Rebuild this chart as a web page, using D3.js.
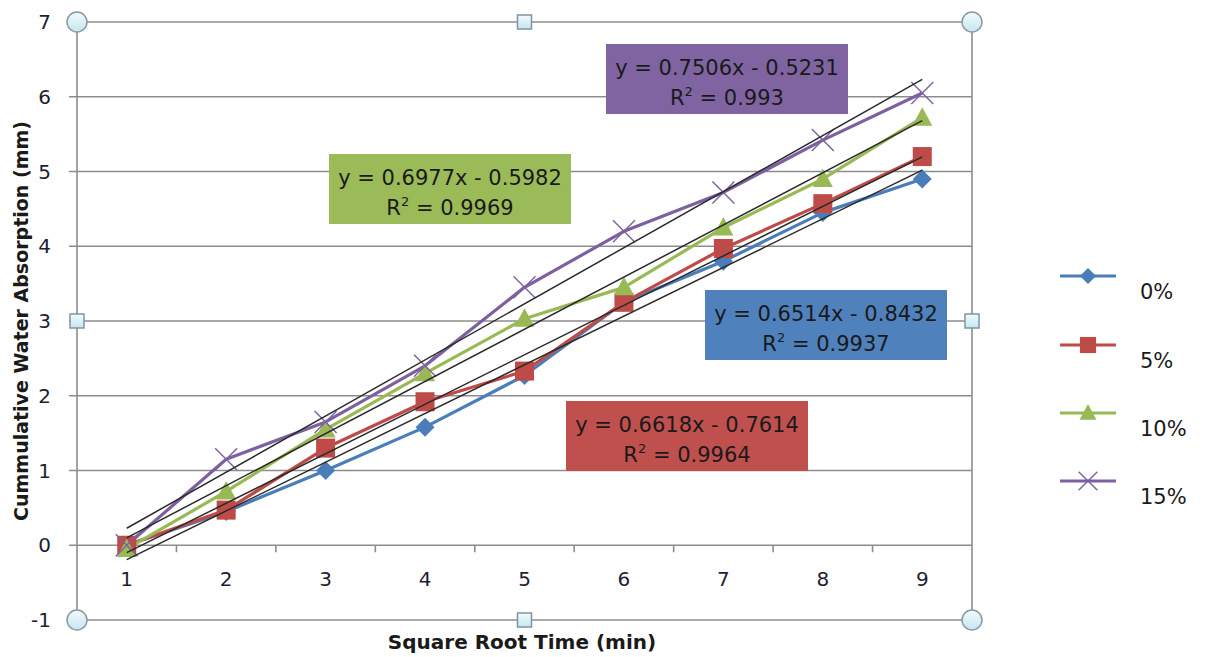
<!DOCTYPE html>
<html>
<head>
<meta charset="utf-8">
<script src="https://cdn.jsdelivr.net/npm/d3@7"></script>
<style>
  body { margin: 0; background: #fff; }
  svg { display: block; font-family: "DejaVu Sans", "Liberation Sans", sans-serif; }
</style>
</head>
<body>
<div id="vis"></div>
<script>
// declare constant
const FRAME_WIDTH = 1207
const FRAME_HEIGHT = 657
const PLOT = {left: 77, right: 972, top: 22, bottom: 620}

// data
const categories = [1, 2, 3, 4, 5, 6, 7, 8, 9]
const seriesNames = ["0%", "5%", "10%", "15%"]
const values0 = [0, 0.45, 1.0, 1.58, 2.27, 3.25, 3.8, 4.45, 4.9]
const values5 = [0, 0.47, 1.3, 1.92, 2.33, 3.25, 3.97, 4.57, 5.2]
const values10 = [-0.05, 0.72, 1.55, 2.3, 3.03, 3.45, 4.25, 4.9, 5.72]
const values15 = [0, 1.15, 1.65, 2.4, 3.45, 4.2, 4.72, 5.42, 6.05]
const slopes = [0.6514, 0.6618, 0.6977, 0.7506]
const intercepts = [-0.8432, -0.7614, -0.5982, -0.5231]
const rSquared = ["0.9937", "0.9964", "0.9969", "0.993"]
const yTicks = [-1, 0, 1, 2, 3, 4, 5, 6, 7]

const allValues = [values0, values5, values10, values15]
const colors = ["#4A7EBB", "#BE4B48", "#98B954", "#7D60A0"]
const boxFills = ["#4F81BD", "#C0504D", "#9BBB59", "#8064A2"]
const markers = ["diamond", "square", "triangle", "cross"]
// where the equation boxes sit (box centre, top)
const boxPos = [{cx: 826, top: 290}, {cx: 687, top: 401}, {cx: 450, top: 154}, {cx: 727, top: 44}]

const svg = d3.select('#vis')
              .append('svg')
              .attr('width', FRAME_WIDTH)
              .attr('height', FRAME_HEIGHT)

const x = d3.scaleBand()
            .domain(categories)
            .range([PLOT.left, PLOT.right])
const cx = d => x(d) + x.bandwidth() / 2

const y = d3.scaleLinear()
            .domain([-1, 7])
            .range([PLOT.bottom, PLOT.top])

// horizontal gridlines
svg.append("g")
   .selectAll("line")
   .data(yTicks)
   .enter()
   .append("line")
     .attr("x1", PLOT.left - 8)
     .attr("x2", PLOT.right)
     .attr("y1", d => y(d))
     .attr("y2", d => y(d))
     .attr("stroke", "#8c8c8c")
     .attr("stroke-width", 1.6)

// left axis line and right border
svg.append("line")
   .attr("x1", PLOT.left).attr("x2", PLOT.left)
   .attr("y1", PLOT.top).attr("y2", PLOT.bottom)
   .attr("stroke", "#8c8c8c").attr("stroke-width", 1.6)
svg.append("line")
   .attr("x1", PLOT.right).attr("x2", PLOT.right)
   .attr("y1", PLOT.top).attr("y2", PLOT.bottom)
   .attr("stroke", "#8c8c8c").attr("stroke-width", 1.6)

// y tick labels
svg.append("g")
   .selectAll("text")
   .data(yTicks)
   .enter()
   .append("text")
     .attr("x", 51)
     .attr("y", d => y(d) + 7)
     .attr("text-anchor", "end")
     .attr("font-size", "20px")
     .attr("fill", "#1e1e30")
     .text(d => d)

// category axis at y = 0
const xAxis = svg.append("g")
   .attr("transform", "translate(0," + y(0) + ")")
   .call(d3.axisBottom(x).tickSize(0).tickPadding(27))
xAxis.select(".domain").remove()
xAxis.selectAll("text")
     .attr("font-size", "20px")
     .attr("fill", "#1e1e30")
     .attr("font-family", "DejaVu Sans, sans-serif")
svg.append("g")
   .selectAll("line")
   .data(categories.slice(1))
   .enter()
   .append("line")
     .attr("x1", d => x(d)).attr("x2", d => x(d))
     .attr("y1", y(0)).attr("y2", y(0) + 7)
     .attr("stroke", "#8c8c8c").attr("stroke-width", 1.6)

// series lines
const line = d3.line()
               .x((d, i) => cx(categories[i]))
               .y(d => y(d))

svg.append("g")
   .selectAll("path")
   .data(allValues)
   .enter()
   .append("path")
     .attr("d", d => line(d))
     .attr("fill", "none")
     .attr("stroke", (d, i) => colors[i])
     .attr("stroke-width", 3.2)
     .attr("stroke-linejoin", "round")

// markers
function drawMarker(g, type, color, size) {
  const s = size
  if (type === "diamond") {
    g.append("path").attr("d", `M0,${-s}L${s},0L0,${s}L${-s},0Z`).attr("fill", color)
  } else if (type === "square") {
    g.append("rect").attr("x", -s).attr("y", -s).attr("width", 2 * s).attr("height", 2 * s).attr("fill", color)
  } else if (type === "triangle") {
    g.append("path").attr("d", `M0,${-s * 1.05}L${s},${s * 0.8}L${-s},${s * 0.8}Z`).attr("fill", color)
  } else {
    g.append("path").attr("d", `M${-s},${-s}L${s},${s}M${s},${-s}L${-s},${s}`)
     .attr("stroke", color).attr("stroke-width", 1.4).attr("fill", "none")
  }
}
const markerSize = [9.5, 9.5, 10, 11]
allValues.forEach((vals, si) => {
  vals.forEach((v, i) => {
    const g = svg.append("g").attr("transform", `translate(${cx(categories[i])},${y(v)})`)
    drawMarker(g, markers[si], colors[si], markerSize[si])
  })
})

// linear trendlines
svg.append("g")
   .selectAll("line")
   .data(slopes)
   .enter()
   .append("line")
     .attr("x1", cx(categories[0]))
     .attr("x2", cx(categories[categories.length - 1]))
     .attr("y1", (d, i) => y(d * categories[0] + intercepts[i]))
     .attr("y2", (d, i) => y(d * categories[categories.length - 1] + intercepts[i]))
     .attr("stroke", "#2a2a2a")
     .attr("stroke-width", 1.5)

// equation labels
const fmt = d3.format(".4f")
slopes.forEach((m, i) => {
  const b = intercepts[i]
  const g = svg.append("g")
  g.append("rect")
   .attr("x", boxPos[i].cx - 121)
   .attr("y", boxPos[i].top)
   .attr("width", 242)
   .attr("height", 70)
   .attr("fill", boxFills[i])
  g.append("text")
   .attr("x", boxPos[i].cx)
   .attr("y", boxPos[i].top + 31)
   .attr("text-anchor", "middle")
   .attr("font-size", "21px")
   .attr("fill", "#1a1a1a")
   .text("y = " + fmt(m) + "x " + (b < 0 ? "- " : "+ ") + fmt(Math.abs(b)))
  const t2 = g.append("text")
   .attr("x", boxPos[i].cx)
   .attr("y", boxPos[i].top + 61)
   .attr("text-anchor", "middle")
   .attr("font-size", "21px")
   .attr("fill", "#1a1a1a")
  t2.append("tspan").text("R")
  t2.append("tspan").attr("font-size", "13px").attr("dy", -9).text("2")
  t2.append("tspan").attr("dy", 9).text(" = " + rSquared[i])
})

// selection handles on the plot area
const handles = [
  {px: 0, py: 0, c: true}, {px: 0.5, py: 0, c: false}, {px: 1, py: 0, c: true},
  {px: 0, py: 0.5, c: false}, {px: 1, py: 0.5, c: false},
  {px: 0, py: 1, c: true}, {px: 0.5, py: 1, c: false}, {px: 1, py: 1, c: true}
]
const defs = svg.append("defs")
const grad = defs.append("linearGradient").attr("id", "hg").attr("x1", 0).attr("y1", 0).attr("x2", 0).attr("y2", 1)
grad.append("stop").attr("offset", "0%").attr("stop-color", "#f2fbfd")
grad.append("stop").attr("offset", "100%").attr("stop-color", "#c6e6ef")
handles.forEach(h => {
  const hx = PLOT.left + h.px * (PLOT.right - PLOT.left)
  const hy = PLOT.top + h.py * (PLOT.bottom - PLOT.top)
  if (h.c) {
    svg.append("circle").attr("cx", hx).attr("cy", hy).attr("r", 10)
       .attr("fill", "url(#hg)").attr("stroke", "#8a9aa2").attr("stroke-width", 1.5)
  } else {
    svg.append("rect").attr("x", hx - 7).attr("y", hy - 7).attr("width", 14).attr("height", 14)
       .attr("fill", "url(#hg)").attr("stroke", "#7f95a5").attr("stroke-width", 1.5)
  }
})

// legend
const legendRows = [276, 345, 413, 481]
seriesNames.forEach((name, i) => {
  const ly = legendRows[i]
  svg.append("line")
     .attr("x1", 1060).attr("x2", 1116)
     .attr("y1", ly).attr("y2", ly)
     .attr("stroke", colors[i]).attr("stroke-width", 3.2)
  const g = svg.append("g").attr("transform", `translate(1088,${ly})`)
  drawMarker(g, markers[i], colors[i], markerSize[i] * 0.85)
  svg.append("text")
     .attr("x", 1140)
     .attr("y", ly + 23)
     .attr("font-size", "21px")
     .attr("fill", "#1a1a1a")
     .text(name)
})

// axis titles
svg.append("text")
   .attr("x", 522)
   .attr("y", 649)
   .attr("text-anchor", "middle")
   .attr("font-size", "20px")
   .attr("font-weight", "bold")
   .attr("fill", "#1a1a1a")
   .text("Square Root Time (min)")

svg.append("text")
   .attr("transform", "translate(28,321) rotate(-90)")
   .attr("text-anchor", "middle")
   .attr("font-size", "19px")
   .attr("font-weight", "bold")
   .attr("fill", "#1a1a1a")
   .text("Cummulative Water Absorption (mm)")
</script>
</body>
</html>
